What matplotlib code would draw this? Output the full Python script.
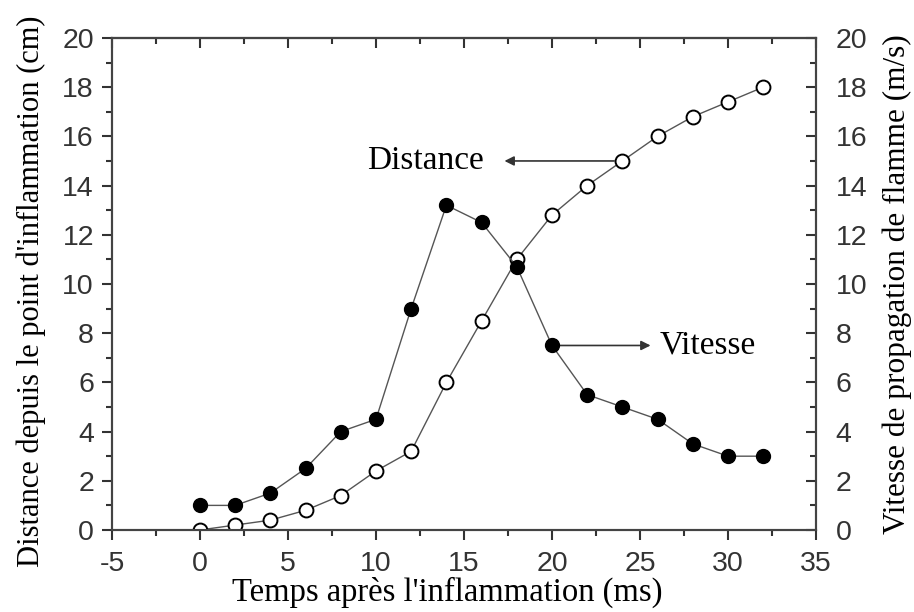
import matplotlib
matplotlib.use('Agg')
import matplotlib.pyplot as plt
from matplotlib.ticker import MultipleLocator

plt.rcParams['axes.unicode_minus'] = False

# données
temps = [0, 2, 4, 6, 8, 10, 12, 14, 16, 18, 20, 22, 24, 26, 28, 30, 32]
distance = [0, 0.2, 0.4, 0.8, 1.4, 2.4, 3.2, 6.0, 8.5, 11.0, 12.8, 14.0, 15.0, 16.0, 16.8, 17.4, 18.0]
vitesse = [1.0, 1.0, 1.5, 2.5, 4.0, 4.5, 9.0, 13.2, 12.5, 10.7, 7.5, 5.5, 5.0, 4.5, 3.5, 3.0, 3.0]

serif = 'Liberation Serif'
sans = 'Liberation Sans'

fig = plt.figure(figsize=(9.14, 6.12), dpi=100)
ax = fig.add_axes([0.1225, 0.134, 0.7703, 0.804])
ax2 = ax.twinx()

line_col = '#555555'
ax.plot(temps, distance, '-', color=line_col, lw=1.0, marker='o', ms=10,
        mfc='white', mec='black', mew=1.4, zorder=3)
ax2.plot(temps, vitesse, '-', color=line_col, lw=1.0, marker='o', ms=10,
         mfc='black', mec='black', zorder=3)

ax.set_xlim(-5, 35)
ax.set_ylim(0, 20)
ax2.set_ylim(0, 20)

ax.xaxis.set_major_locator(MultipleLocator(5))
ax.xaxis.set_minor_locator(MultipleLocator(2.5))
for a in (ax, ax2):
    a.yaxis.set_major_locator(MultipleLocator(2))
    a.yaxis.set_minor_locator(MultipleLocator(1))

tick_col = '#333333'
ax.tick_params(axis='both', which='major', direction='out', length=7, width=1.5,
               labelsize=20.5, colors=tick_col)
ax.tick_params(axis='both', which='minor', direction='out', length=4, width=1.5,
               colors=tick_col)
ax.tick_params(axis='y', which='major', pad=6)
ax.tick_params(axis='x', which='major', pad=8)
ax2.tick_params(axis='y', which='major', direction='in', length=7, width=1.5,
                labelsize=20.5, colors=tick_col, pad=14)
ax2.tick_params(axis='y', which='minor', direction='in', length=4, width=1.5,
                colors=tick_col)

# ticks du haut vers l'intérieur, sans étiquettes
top = ax.secondary_xaxis('top')
top.xaxis.set_major_locator(MultipleLocator(5))
top.xaxis.set_minor_locator(MultipleLocator(2.5))
top.tick_params(which='major', direction='in', length=7, width=1.5, labeltop=False, colors=tick_col)
top.tick_params(which='minor', direction='in', length=4, width=1.5, colors=tick_col)
top.spines['top'].set_linewidth(1.5)
top.spines['top'].set_color('#444444')

for lab in ax.get_xticklabels() + ax.get_yticklabels() + ax2.get_yticklabels():
    lab.set_family(sans)

for a in (ax, ax2):
    for sp in a.spines.values():
        sp.set_linewidth(1.5)
        sp.set_color('#444444')

ax.set_xlabel("Temps après l'inflammation (ms)", family=serif, fontsize=23.5)
ax.xaxis.set_label_coords(0.476, -0.095)
ax.set_ylabel("Distance depuis le point d'inflammation (cm)", family=serif, fontsize=22)
ax.yaxis.set_label_coords(-0.094, 0.486)
ax2.set_ylabel("Vitesse de propagation de flamme (m/s)", family=serif, fontsize=22.5, labelpad=11)

arrow = dict(arrowstyle='-|>', color='#333333', lw=1.2, mutation_scale=14,
             shrinkA=6, shrinkB=0)
ax.annotate('', xy=(17.3, 15.0), xytext=(24, 15.0), arrowprops=arrow, zorder=2)
ax.text(16.1, 15.0, 'Distance', family=serif, fontsize=24, ha='right', va='center')
ax2.annotate('', xy=(25.6, 7.5), xytext=(20, 7.5), arrowprops=arrow, zorder=2)
ax2.text(26.1, 7.5, 'Vitesse', family=serif, fontsize=24, ha='left', va='center')

fig.savefig('out.png', dpi=100)
